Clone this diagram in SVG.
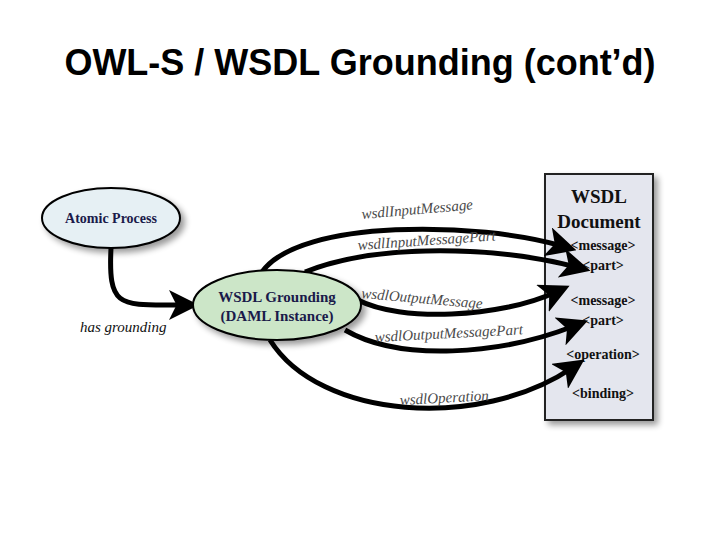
<svg xmlns="http://www.w3.org/2000/svg" width="720" height="540" viewBox="0 0 720 540">
<style>
.title{font-family:"Liberation Sans",Arial,sans-serif;font-weight:bold;font-size:36px;fill:#000}
.node{font-family:"Liberation Serif","Times New Roman",serif;font-weight:bold;fill:#1a1a4a}
.doc{font-family:"Liberation Serif","Times New Roman",serif;font-weight:bold;fill:#111;text-anchor:middle}
.lbl{font-family:"Liberation Serif","Times New Roman",serif;font-style:italic;font-size:15px;fill:#4a4a4a}
.edge{fill:none;stroke:#000;stroke-width:5}
</style>
<defs>
<marker id="ah" markerWidth="6" markerHeight="6" refX="3" refY="3" orient="auto" markerUnits="strokeWidth">
<path d="M0,0 L6,3 L0,6 L1.5,3 Z" fill="#000"/>
</marker>
<filter id="sh" x="-20%" y="-20%" width="150%" height="150%"><feGaussianBlur in="SourceAlpha" stdDeviation="3"/><feOffset dx="4" dy="4"/><feComponentTransfer><feFuncA type="linear" slope="0.4"/></feComponentTransfer><feMerge><feMergeNode/><feMergeNode in="SourceGraphic"/></feMerge></filter>
</defs>
<rect width="720" height="540" fill="#fff"/>
<text class="title" x="360" y="75" text-anchor="middle">OWL-S / WSDL Grounding (cont’d)</text>
<g id="wsdl-doc">
<rect x="545" y="174" width="108" height="246" fill="#e4e6ee" stroke="#222" stroke-width="2" filter="url(#sh)"/>
<text class="doc" x="599" y="203" font-size="19">WSDL</text>
<text class="doc" x="599" y="228" font-size="19">Document</text>
<text class="doc" x="603" y="250" font-size="14">&lt;message&gt;</text>
<text class="doc" x="603" y="270" font-size="14">&lt;part&gt;</text>
<text class="doc" x="603" y="305" font-size="14">&lt;message&gt;</text>
<text class="doc" x="603" y="325" font-size="14">&lt;part&gt;</text>
<text class="doc" x="603" y="359" font-size="14">&lt;operation&gt;</text>
<text class="doc" x="603" y="398" font-size="14">&lt;binding&gt;</text>
</g>
<g id="connectors">
<path class="edge" d="M111,248 C108,310 120,305 184,305" marker-end="url(#ah)"/>
<path class="edge" d="M262,272 C300,218 480,222 562,246" marker-end="url(#ah)"/>
<path class="edge" d="M305,272 C380,242 500,247 576,267" marker-end="url(#ah)"/>
<path class="edge" d="M358,300 C400,322 500,318 556,292" marker-end="url(#ah)"/>
<path class="edge" d="M345,330 C400,362 500,355 574,326" marker-end="url(#ah)"/>
<path class="edge" d="M270,340 C320,420 480,430 572,368" marker-end="url(#ah)"/>
<text class="lbl" x="80" y="332" style="fill:#111">has grounding</text>
<text class="lbl" transform="translate(362,219) rotate(-5)">wsdlInputMessage</text>
<text class="lbl" transform="translate(358,250) rotate(-4)">wsdlInputMessagePart</text>
<text class="lbl" transform="translate(361,298) rotate(5)">wsdlOutputMessage</text>
<text class="lbl" transform="translate(375,342) rotate(-3)">wsdlOutputMessagePart</text>
<text class="lbl" transform="translate(400,405) rotate(-3)">wsdlOperation</text>
</g>
<g id="atomic-process">
<ellipse cx="111" cy="218" rx="69" ry="30" fill="#e6f0f4" stroke="#000" stroke-width="2" filter="url(#sh)"/>
<text class="node" x="111" y="223" font-size="14" text-anchor="middle">Atomic Process</text>
</g>
<g id="wsdl-grounding">
<ellipse cx="277" cy="305" rx="84" ry="35" fill="#cce6c8" stroke="#000" stroke-width="2" filter="url(#sh)"/>
<text class="node" x="277" y="302" font-size="15" text-anchor="middle">WSDL Grounding</text>
<text class="node" x="277" y="321" font-size="15" text-anchor="middle">(DAML Instance)</text>
</g>
</svg>
